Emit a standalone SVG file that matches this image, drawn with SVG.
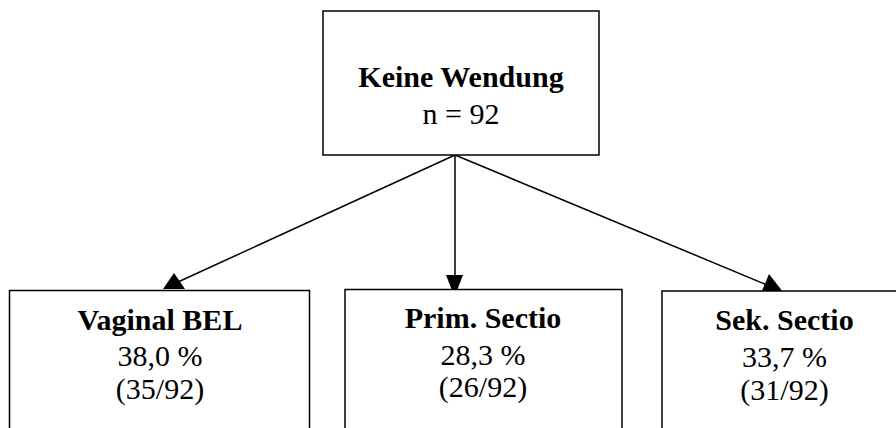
<svg xmlns="http://www.w3.org/2000/svg" width="896" height="428" viewBox="0 0 896 428">
<style>
.box{fill:#fff;stroke:#000;stroke-width:1.5}
.t{font-family:'Liberation Serif','Times New Roman',Tinos,'DejaVu Serif','Noto Serif',serif;font-size:30px;fill:#000;text-anchor:middle}
.b{font-weight:bold}
.c{stroke:#000;stroke-width:1.5;fill:none}
</style>
<rect width="896" height="428" fill="#fff"/>
<g id="connectors">
<line class="c" x1="455" y1="155" x2="178" y2="282"/>
<polygon points="163,289 174,273 185,289" fill="#000"/>
<line class="c" x1="455" y1="155" x2="455" y2="277"/>
<polygon points="446,275 463,275 454.5,297" fill="#000"/>
<line class="c" x1="455" y1="155" x2="767" y2="285"/>
<polygon points="783,292 769,274 761,293" fill="#000"/>
</g>
<g id="root">
<rect class="box" x="323" y="11" width="276" height="144"/>
<text class="t b" x="461" y="87" font-family="Liberation Serif, serif">Keine Wendung</text>
<text class="t" x="461" y="124" font-family="Liberation Serif, serif">n = 92</text>
</g>
<g id="vaginal">
<rect class="box" x="9.5" y="290.5" width="300" height="160"/>
<text class="t b" x="160" y="330">Vaginal BEL</text>
<text class="t" x="160" y="366">38,0 %</text>
<text class="t" x="160" y="399">(35/92)</text>
</g>
<g id="prim">
<rect class="box" x="345" y="289.5" width="277" height="160"/>
<text class="t b" x="483" y="328">Prim. Sectio</text>
<text class="t" x="483" y="365">28,3 %</text>
<text class="t" x="483" y="397">(26/92)</text>
</g>
<g id="sek">
<rect class="box" x="662" y="291" width="245" height="160"/>
<text class="t b" x="784.5" y="330">Sek. Sectio</text>
<text class="t" x="784.5" y="367">33,7 %</text>
<text class="t" x="784.5" y="400">(31/92)</text>
</g>
</svg>
